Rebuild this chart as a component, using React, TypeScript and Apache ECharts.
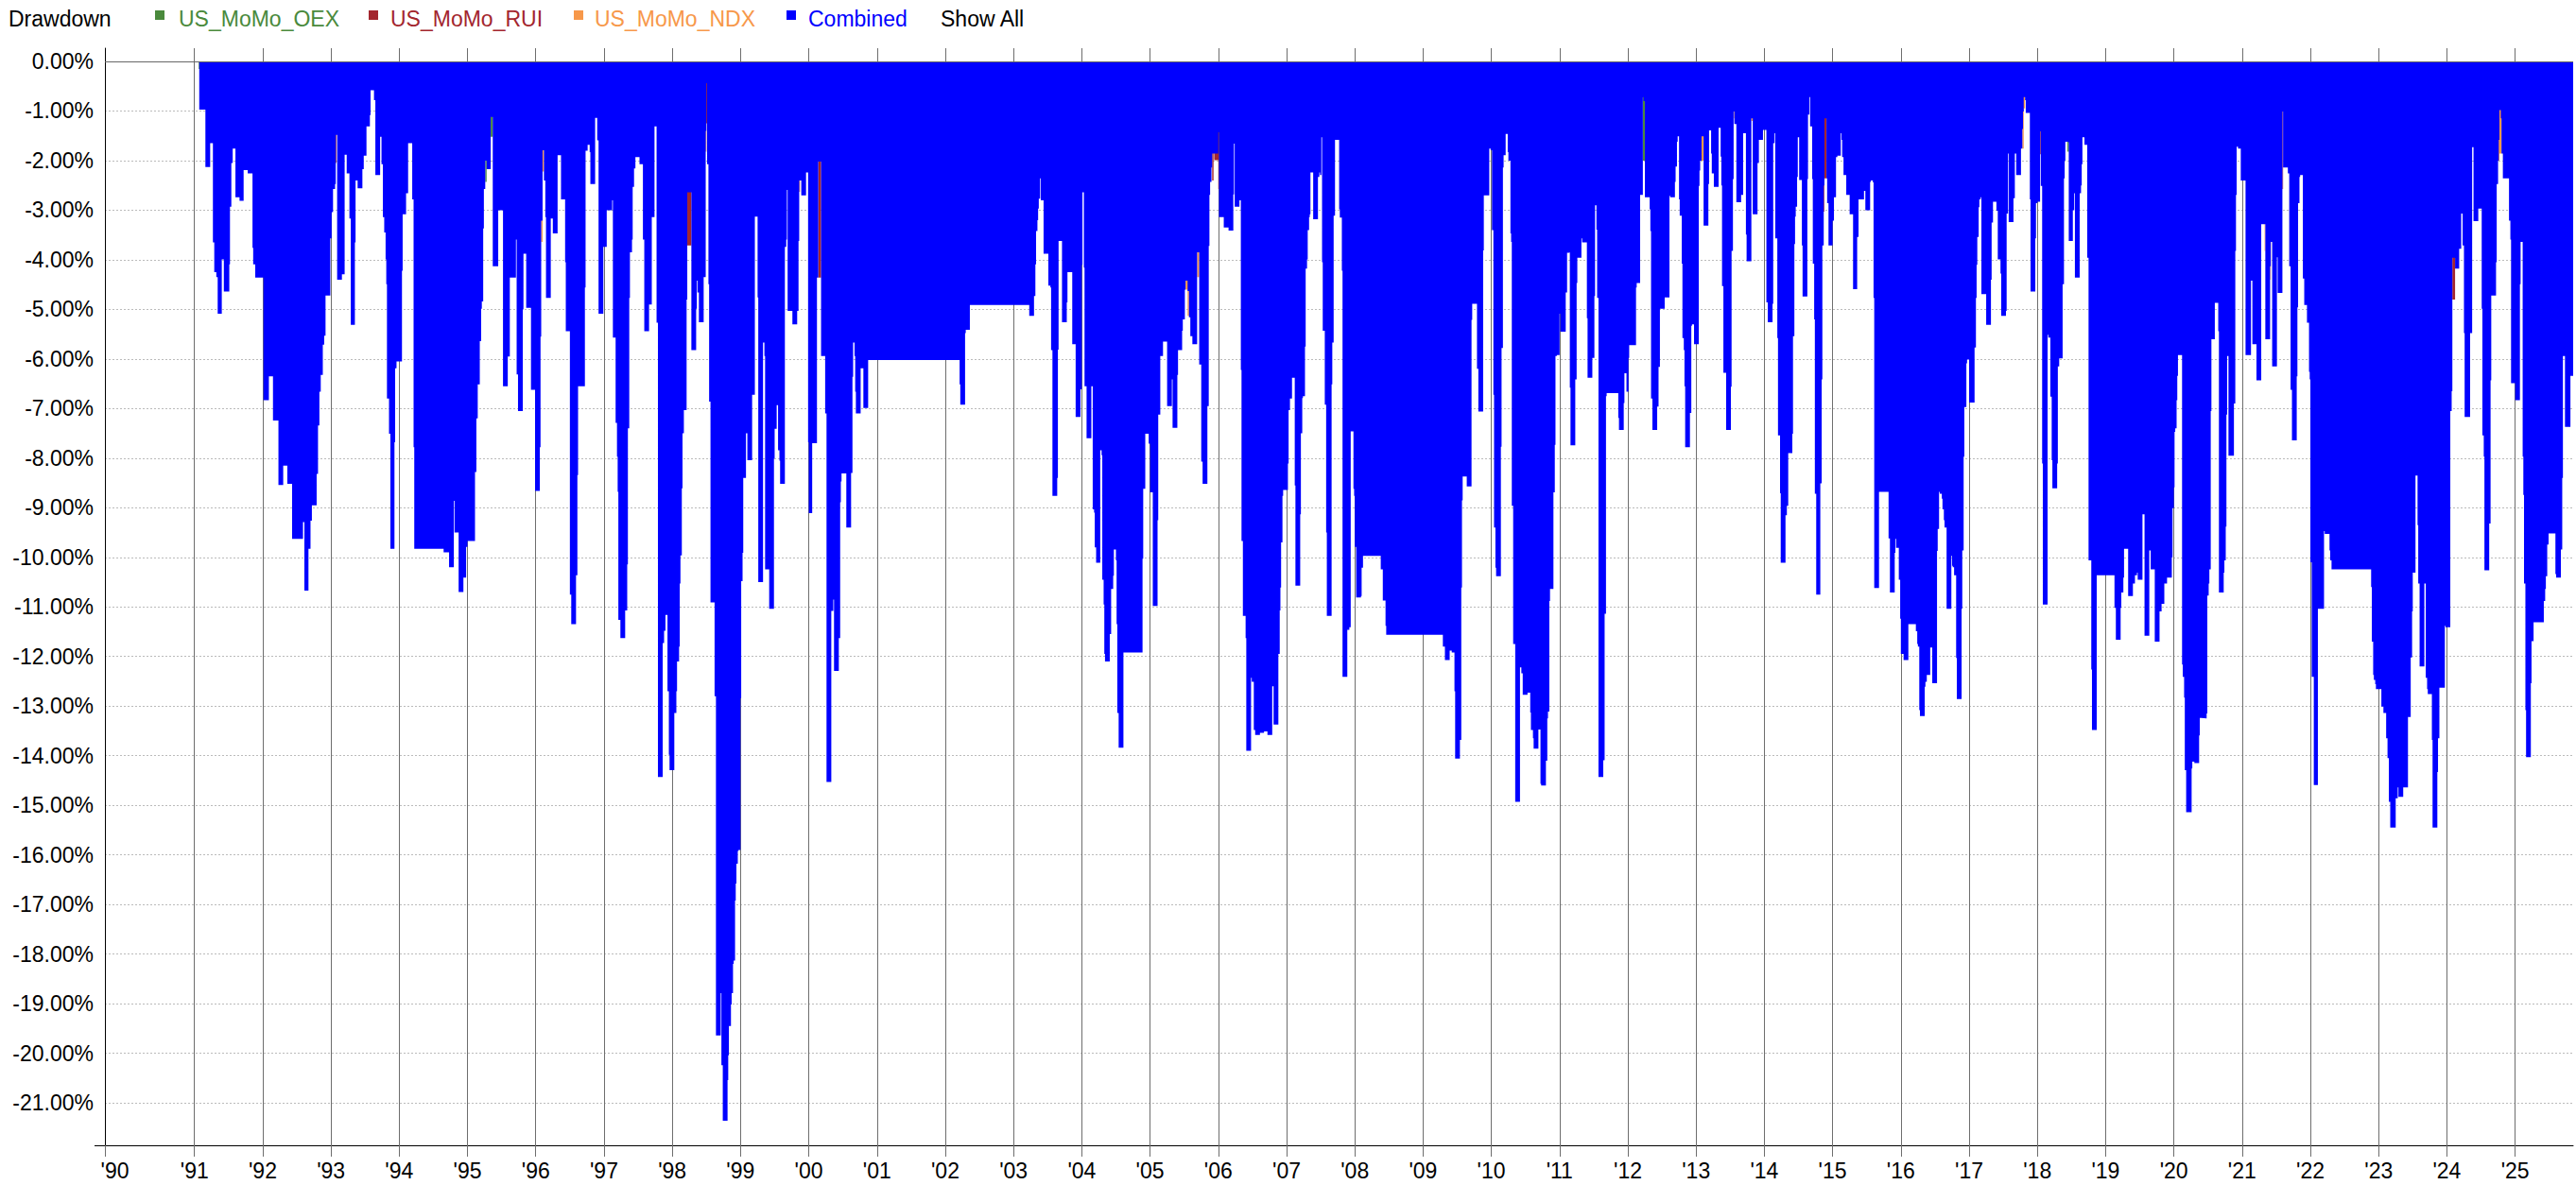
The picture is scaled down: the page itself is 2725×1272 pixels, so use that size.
import React, { useEffect, useRef } from "react";
import * as echarts from "echarts";

// ---------- labels / series meta ----------
const chartTitle = "Drawdown";
const seriesNames = ["US_MoMo_OEX", "US_MoMo_RUI", "US_MoMo_NDX", "Combined"];
const seriesColors = ["#4a8a3c", "#a3262e", "#f7984a", "#0000ff"];
const showAllLabel = "Show All";

// x axis: decimal years; first label sits at the axis start
const xAxisMin = 1989.688;
const xAxisMax = 2025.85;
const yearTicks = Array.from({ length: 35 }, (_, i) => 1991 + i);
// y axis (percent)
const yAxisMin = -21.857;
const yAxisMax = 0.267;
const percentTicks = Array.from({ length: 22 }, (_, i) => -i);

// ---------- Combined drawdown (%), [decimal year, value], each value holds until the next date ----------
const dd1991to1995: [number, number][] = [
  [1991.07,-0.97],[1991.16,-2.13],[1991.23,-1.65],[1991.27,-3.65],[1991.29,-4.25],[1991.32,-4.35],[1991.34,-5.09],[1991.40,-3.99],[1991.43,-4.64],[1991.51,-4.09],[1991.52,-2.93],[1991.54,-2.05],[1991.56,-1.76],[1991.60,-2.74],[1991.66,-2.81],[1991.72,-2.19],[1991.78,-2.26],[1991.85,-3.76],[1991.86,-4.09],[1991.89,-4.36],
  [1992.01,-6.83],[1992.09,-6.35],[1992.15,-7.24],[1992.23,-8.54],[1992.30,-8.15],[1992.36,-8.52],[1992.43,-9.63],[1992.59,-9.29],[1992.61,-10.67],[1992.67,-9.83],[1992.70,-9.26],[1992.72,-8.95],[1992.79,-8.32],[1992.81,-7.34],[1992.83,-6.66],[1992.85,-6.32],[1992.88,-5.71],[1992.90,-5.53],[1992.92,-4.72],[1992.99,-3.57],
  [1993.01,-3.04],[1993.03,-2.57],[1993.06,-2.47],[1993.07,-1.48],[1993.09,-4.40],[1993.16,-4.29],[1993.20,-1.88],[1993.23,-2.26],[1993.27,-3.17],[1993.29,-5.31],[1993.35,-3.65],[1993.36,-2.40],[1993.39,-2.56],[1993.46,-2.17],[1993.48,-1.90],[1993.52,-1.31],[1993.57,-1.08],[1993.58,-0.58],[1993.63,-0.78],[1993.65,-2.29],[1993.72,-1.52],[1993.74,-2.07],[1993.76,-3.14],[1993.78,-3.45],[1993.80,-3.99],[1993.81,-4.49],[1993.82,-6.80],[1993.85,-7.51],[1993.87,-9.83],[1993.93,-7.68],[1993.94,-6.19],[1993.96,-6.05],
  [1994.04,-4.22],[1994.05,-3.08],[1994.10,-2.66],[1994.13,-1.65],[1994.19,-2.78],[1994.21,-7.78],[1994.22,-9.83],[1994.65,-9.90],[1994.73,-10.20],[1994.80,-8.86],[1994.81,-9.50],[1994.87,-10.70],[1994.94,-10.41],[1994.98,-9.79],
  [1995.00,-9.67],[1995.11,-8.28],[1995.13,-7.20],[1995.15,-6.51],[1995.18,-5.64],[1995.20,-4.99],[1995.21,-4.84],[1995.23,-3.37],[1995.24,-2.57],[1995.26,-2.00],[1995.28,-2.17],[1995.34,-1.12],[1995.37,-4.13],[1995.45,-3.00],[1995.52,-6.55],[1995.59,-5.95],[1995.62,-4.36],[1995.71,-3.59],[1995.72,-6.31],[1995.74,-7.05],[1995.81,-5.00],[1995.82,-3.88],[1995.86,-4.97],[1995.93,-6.62],[1995.99,-8.66],
];
const dd1996to2000: [number, number][] = [
  [1996.06,-7.78],[1996.07,-5.55],[1996.08,-3.21],[1996.10,-1.79],[1996.12,-2.40],[1996.14,-3.14],[1996.15,-4.77],[1996.22,-3.17],[1996.25,-3.47],[1996.32,-1.89],[1996.37,-2.78],[1996.43,-4.05],[1996.44,-5.44],[1996.50,-10.75],[1996.52,-11.35],[1996.59,-10.36],[1996.61,-8.34],[1996.62,-6.55],[1996.72,-4.56],[1996.73,-1.80],[1996.76,-1.68],[1996.79,-1.83],[1996.80,-2.47],[1996.87,-1.14],[1996.90,-1.59],[1996.92,-5.09],[1996.99,-3.74],
  [1997.04,-3.00],[1997.12,-2.80],[1997.13,-5.57],[1997.17,-7.29],[1997.19,-7.97],[1997.20,-8.68],[1997.21,-11.26],[1997.24,-11.63],[1997.31,-11.07],[1997.34,-10.14],[1997.35,-7.40],[1997.37,-4.77],[1997.38,-3.85],[1997.41,-3.59],[1997.42,-2.53],[1997.44,-2.16],[1997.46,-1.93],[1997.52,-2.07],[1997.57,-3.59],[1997.59,-5.44],[1997.66,-4.90],[1997.70,-3.14],[1997.74,-1.31],[1997.77,-5.27],[1997.79,-14.43],[1997.86,-11.73],[1997.88,-11.48],[1997.90,-11.16],[1997.93,-12.70],[1997.95,-13.98],[1997.96,-14.29],
  [1998.03,-13.14],[1998.06,-12.70],[1998.07,-12.10],[1998.10,-11.80],[1998.11,-10.53],[1998.12,-9.96],[1998.14,-8.61],[1998.15,-7.50],[1998.17,-7.03],[1998.21,-4.80],[1998.22,-2.64],[1998.28,-5.82],[1998.35,-4.99],[1998.36,-4.42],[1998.37,-4.66],[1998.39,-5.26],[1998.46,-4.35],[1998.49,-1.40],[1998.50,-0.44],[1998.51,-2.07],[1998.53,-4.49],[1998.54,-6.86],[1998.56,-10.91],[1998.62,-12.80],[1998.64,-19.64],[1998.71,-18.79],[1998.72,-20.24],[1998.74,-21.36],[1998.81,-20.54],[1998.82,-20.04],[1998.83,-19.45],[1998.86,-19.02],[1998.87,-18.79],[1998.89,-18.20],[1998.90,-18.13],[1998.92,-16.92],[1998.93,-16.58],[1998.94,-16.18],[1998.96,-15.92],[1998.97,-15.90],
  [1999.00,-12.84],[1999.01,-10.48],[1999.03,-9.91],[1999.04,-8.40],[1999.08,-7.50],[1999.10,-8.04],[1999.17,-6.72],[1999.21,-3.13],[1999.25,-4.76],[1999.26,-10.50],[1999.33,-5.67],[1999.35,-5.94],[1999.36,-10.24],[1999.42,-11.04],[1999.49,-8.01],[1999.50,-7.41],[1999.53,-6.93],[1999.55,-7.84],[1999.57,-8.05],[1999.58,-8.52],[1999.65,-3.74],[1999.67,-3.59],[1999.68,-2.59],[1999.69,-5.03],[1999.76,-5.30],[1999.83,-5.03],[1999.85,-3.62],[1999.86,-2.40],[1999.89,-2.70],[1999.96,-2.24],[1999.99,-7.68],
  [2000.00,-9.11],[2000.05,-7.70],[2000.12,-4.36],[2000.14,-2.02],[2000.18,-5.94],[2000.24,-7.10],[2000.26,-14.53],[2000.33,-11.08],[2000.36,-10.85],[2000.37,-12.29],[2000.44,-11.63],[2000.46,-8.89],[2000.47,-8.47],[2000.48,-8.31],[2000.55,-9.40],[2000.62,-8.30],[2000.64,-6.36],[2000.65,-5.67],[2000.67,-5.94],[2000.68,-6.66],[2000.69,-7.10],[2000.76,-6.19],[2000.80,-6.99],[2000.87,-6.02],
];
const dd2001to2005: [number, number][] = [
  [2002.21,-6.51],[2002.22,-6.92],[2002.29,-5.48],[2002.30,-5.41],[2002.36,-4.91],
  [2003.23,-5.13],[2003.30,-4.73],[2003.32,-4.09],[2003.33,-3.42],[2003.35,-3.20],[2003.36,-2.97],[2003.37,-2.77],[2003.39,-2.36],[2003.40,-2.80],[2003.44,-3.88],[2003.51,-4.52],[2003.54,-4.56],[2003.55,-5.82],[2003.57,-8.76],[2003.64,-8.40],[2003.65,-5.81],[2003.66,-3.62],[2003.71,-5.26],[2003.78,-4.86],[2003.79,-4.25],[2003.86,-5.70],[2003.91,-7.17],[2003.98,-6.61],
  [2004.00,-4.10],[2004.01,-2.64],[2004.03,-4.16],[2004.04,-6.55],[2004.07,-7.60],[2004.14,-6.55],[2004.16,-9.03],[2004.18,-9.10],[2004.19,-9.80],[2004.21,-10.11],[2004.27,-7.84],[2004.29,-7.94],[2004.30,-10.45],[2004.32,-10.95],[2004.33,-11.95],[2004.34,-12.10],[2004.41,-11.55],[2004.43,-10.64],[2004.46,-10.37],[2004.47,-9.84],[2004.50,-10.06],[2004.51,-11.35],[2004.52,-13.14],[2004.54,-13.84],[2004.61,-11.92],[2004.89,-10.03],[2004.90,-8.62],[2004.93,-7.51],[2004.98,-7.71],
  [2005.00,-8.69],[2005.04,-10.98],[2005.11,-9.25],[2005.12,-7.12],[2005.15,-5.94],[2005.19,-5.65],[2005.25,-6.95],[2005.32,-6.41],[2005.33,-7.39],[2005.40,-6.32],[2005.41,-5.82],[2005.47,-5.43],[2005.48,-5.20],[2005.51,-4.60],[2005.52,-4.42],[2005.55,-4.63],[2005.57,-5.16],[2005.59,-5.54],[2005.62,-5.70],[2005.69,-3.85],[2005.72,-6.11],[2005.75,-8.07],[2005.77,-8.52],[2005.84,-6.95],[2005.86,-3.72],[2005.87,-2.69],[2005.88,-2.43],[2005.90,-2.14],[2005.91,-1.86],
];
const dd2006to2010: [number, number][] = [
  [2006.00,-1.43],[2006.01,-3.14],[2006.08,-3.35],[2006.15,-3.41],[2006.22,-2.68],[2006.23,-1.66],[2006.24,-2.93],[2006.31,-2.80],[2006.33,-6.22],[2006.34,-9.67],[2006.36,-11.18],[2006.40,-11.63],[2006.41,-13.90],[2006.48,-12.43],[2006.49,-12.51],[2006.52,-13.48],[2006.54,-13.58],[2006.61,-13.54],[2006.67,-13.51],[2006.72,-13.58],[2006.79,-12.60],[2006.81,-13.37],[2006.88,-11.95],[2006.90,-11.07],[2006.91,-10.61],[2006.92,-9.70],[2006.94,-8.76],[2006.95,-8.64],
  [2007.02,-8.11],[2007.03,-7.03],[2007.05,-6.80],[2007.08,-6.38],[2007.12,-8.55],[2007.13,-10.57],[2007.20,-9.13],[2007.21,-7.50],[2007.23,-6.79],[2007.24,-6.75],[2007.27,-5.75],[2007.28,-4.18],[2007.30,-3.99],[2007.31,-3.40],[2007.33,-3.14],[2007.34,-3.08],[2007.35,-2.24],[2007.39,-3.18],[2007.46,-2.33],[2007.48,-2.24],[2007.49,-2.29],[2007.51,-1.53],[2007.52,-4.05],[2007.53,-5.43],[2007.56,-6.92],[2007.58,-9.50],[2007.59,-11.18],[2007.66,-6.51],[2007.67,-5.67],[2007.69,-3.11],[2007.71,-1.58],[2007.77,-2.98],[2007.78,-3.15],[2007.81,-4.22],[2007.82,-12.41],[2007.89,-11.46],[2007.92,-11.41],[2007.94,-7.46],[2007.98,-8.62],[2007.99,-8.76],
  [2008.00,-9.79],[2008.02,-10.81],[2008.09,-10.78],[2008.10,-10.21],[2008.12,-9.97],[2008.38,-10.24],[2008.41,-10.87],[2008.45,-11.38],[2008.46,-11.56],
  [2009.29,-11.80],[2009.32,-12.07],[2009.39,-11.88],[2009.42,-11.92],[2009.46,-12.70],[2009.47,-14.06],[2009.54,-13.68],[2009.56,-10.61],[2009.57,-8.85],[2009.58,-8.37],[2009.64,-8.57],[2009.71,-5.21],[2009.72,-4.89],[2009.79,-6.20],[2009.81,-7.06],[2009.88,-3.81],[2009.89,-2.70],[2009.97,-1.76],[2009.99,-1.79],
  [2010.01,-3.40],[2010.03,-6.72],[2010.04,-9.40],[2010.06,-10.21],[2010.07,-10.38],[2010.14,-7.77],[2010.15,-5.78],[2010.17,-2.14],[2010.18,-1.89],[2010.21,-1.46],[2010.24,-1.83],[2010.25,-2.00],[2010.28,-3.47],[2010.29,-3.64],[2010.30,-8.96],[2010.32,-11.75],[2010.35,-14.93],[2010.42,-12.22],[2010.44,-12.34],[2010.46,-12.77],[2010.53,-12.73],[2010.57,-13.13],[2010.58,-13.48],[2010.61,-13.65],[2010.62,-13.86],[2010.69,-13.47],[2010.72,-14.57],[2010.73,-14.60],[2010.80,-14.10],[2010.82,-13.25],[2010.83,-13.11],[2010.85,-10.88],[2010.86,-10.64],[2010.91,-8.69],[2010.93,-7.73],[2010.94,-5.94],[2010.96,-5.92],
];
const dd2011to2015: [number, number][] = [
  [2011.00,-5.09],[2011.01,-5.45],[2011.09,-4.66],[2011.11,-3.86],[2011.14,-3.85],[2011.15,-6.58],[2011.16,-7.74],[2011.23,-6.41],[2011.25,-4.47],[2011.26,-3.96],[2011.32,-3.57],[2011.33,-3.65],[2011.40,-5.18],[2011.41,-6.38],[2011.48,-5.98],[2011.51,-4.73],[2011.52,-2.90],[2011.54,-3.39],[2011.55,-4.77],[2011.57,-14.43],[2011.64,-14.09],[2011.66,-11.14],[2011.68,-6.75],[2011.69,-6.69],[2011.86,-7.19],[2011.87,-7.43],[2011.94,-6.89],[2011.95,-6.29],[2011.98,-6.66],
  [2012.01,-5.98],[2012.02,-5.72],[2012.12,-4.56],[2012.13,-4.47],[2012.18,-2.69],[2012.22,-0.72],[2012.23,-0.80],[2012.25,-2.74],[2012.32,-2.98],[2012.33,-3.42],[2012.34,-6.80],[2012.36,-7.43],[2012.43,-6.96],[2012.45,-6.16],[2012.47,-4.99],[2012.54,-4.76],[2012.61,-2.71],[2012.62,-2.74],[2012.69,-2.43],[2012.70,-2.12],[2012.72,-1.62],[2012.73,-1.51],[2012.75,-2.78],[2012.76,-3.11],[2012.79,-4.08],[2012.80,-5.58],[2012.82,-5.82],[2012.83,-6.55],[2012.84,-7.78],[2012.91,-7.09],[2012.93,-5.33],[2012.94,-5.30],[2012.97,-5.70],
  [2013.04,-2.51],[2013.05,-2.20],[2013.06,-2.00],[2013.08,-1.51],[2013.11,-3.31],[2013.18,-2.47],[2013.19,-1.39],[2013.22,-1.86],[2013.23,-2.26],[2013.26,-2.53],[2013.33,-1.34],[2013.36,-1.92],[2013.37,-2.50],[2013.38,-4.53],[2013.40,-6.28],[2013.44,-7.43],[2013.51,-6.56],[2013.52,-3.82],[2013.54,-2.37],[2013.55,-1.01],[2013.56,-1.26],[2013.59,-2.84],[2013.66,-2.69],[2013.69,-1.45],[2013.73,-3.49],[2013.74,-4.03],[2013.81,-1.15],[2013.83,-3.08],[2013.90,-2.05],[2013.92,-1.58],[2013.98,-1.38],
  [2014.03,-4.86],[2014.05,-5.26],[2014.12,-4.89],[2014.13,-1.65],[2014.15,-1.45],[2014.16,-3.57],[2014.19,-5.58],[2014.20,-7.54],[2014.23,-8.71],[2014.24,-10.11],[2014.31,-9.15],[2014.33,-8.96],[2014.35,-7.90],[2014.41,-7.51],[2014.42,-5.54],[2014.44,-3.68],[2014.45,-3.13],[2014.46,-2.93],[2014.48,-2.33],[2014.49,-1.53],[2014.51,-2.39],[2014.55,-3.71],[2014.56,-4.74],[2014.63,-2.37],[2014.64,-1.07],[2014.66,-0.72],[2014.67,-1.31],[2014.70,-2.37],[2014.71,-4.08],[2014.73,-5.20],[2014.74,-8.72],[2014.76,-10.75],[2014.82,-8.51],[2014.84,-6.41],[2014.85,-3.71],[2014.87,-2.50],[2014.88,-1.15],[2014.91,-2.36],[2014.92,-2.86],[2014.94,-3.71],
  [2015.00,-3.21],[2015.02,-2.74],[2015.05,-1.93],[2015.07,-1.90],[2015.12,-1.45],[2015.13,-1.58],[2015.14,-1.93],[2015.16,-2.29],[2015.20,-2.69],[2015.25,-3.08],[2015.30,-4.59],[2015.36,-3.54],[2015.38,-2.78],[2015.46,-2.61],[2015.48,-3.00],[2015.55,-2.43],[2015.56,-2.40],[2015.59,-2.44],[2015.60,-4.77],[2015.61,-10.62],[2015.68,-8.68],[2015.82,-9.62],[2015.84,-10.71],[2015.91,-9.91],[2015.92,-9.63],[2015.93,-9.81],[2015.97,-10.45],[2015.99,-11.24],
];
const dd2016to2020: [number, number][] = [
  [2016.00,-11.95],[2016.04,-12.07],[2016.11,-11.35],[2016.22,-11.49],[2016.24,-11.75],[2016.25,-11.80],[2016.27,-13.08],[2016.28,-13.20],[2016.35,-12.61],[2016.36,-12.51],[2016.38,-12.37],[2016.43,-11.82],[2016.46,-12.54],[2016.53,-9.87],[2016.54,-9.43],[2016.56,-8.68],[2016.57,-8.72],[2016.60,-8.82],[2016.61,-9.03],[2016.63,-9.25],[2016.64,-9.40],[2016.67,-11.04],[2016.74,-9.97],[2016.75,-10.17],[2016.76,-10.20],[2016.78,-10.36],[2016.81,-12.03],[2016.82,-12.86],[2016.89,-11.04],[2016.90,-9.86],[2016.92,-7.97],[2016.93,-6.97],[2016.96,-6.09],[2016.97,-6.01],
  [2017.00,-6.88],[2017.08,-5.77],[2017.10,-4.77],[2017.11,-4.10],[2017.12,-3.54],[2017.14,-2.94],[2017.15,-2.78],[2017.17,-2.74],[2017.18,-4.69],[2017.25,-5.31],[2017.32,-4.40],[2017.33,-3.25],[2017.35,-2.83],[2017.40,-3.01],[2017.42,-3.99],[2017.46,-4.28],[2017.47,-5.13],[2017.54,-5.03],[2017.55,-3.07],[2017.57,-1.86],[2017.58,-3.24],[2017.65,-2.76],[2017.67,-1.86],[2017.69,-2.29],[2017.76,-1.76],[2017.78,-1.36],[2017.79,-1.01],[2017.80,-0.72],[2017.82,-0.78],[2017.83,-1.04],[2017.89,-2.78],[2017.90,-4.64],[2017.97,-3.57],[2017.98,-2.86],
  [2018.00,-2.83],[2018.04,-1.41],[2018.05,-2.51],[2018.07,-8.11],[2018.08,-10.95],[2018.15,-5.51],[2018.16,-5.57],[2018.19,-6.76],[2018.21,-8.04],[2018.22,-8.61],[2018.29,-8.11],[2018.30,-6.15],[2018.32,-5.99],[2018.37,-4.49],[2018.39,-2.36],[2018.40,-2.00],[2018.41,-1.62],[2018.44,-1.63],[2018.46,-3.62],[2018.52,-3.00],[2018.54,-2.66],[2018.55,-4.36],[2018.62,-2.66],[2018.64,-2.50],[2018.65,-2.07],[2018.66,-1.53],[2018.69,-1.68],[2018.73,-3.96],[2018.75,-10.06],[2018.79,-12.26],[2018.80,-13.48],[2018.87,-10.36],
  [2019.13,-11.02],[2019.15,-11.66],[2019.22,-11.02],[2019.23,-10.71],[2019.26,-10.41],[2019.27,-9.83],[2019.33,-10.78],[2019.40,-10.53],[2019.43,-10.36],[2019.46,-10.31],[2019.47,-10.45],[2019.54,-9.13],[2019.57,-11.58],[2019.64,-9.86],[2019.66,-10.24],[2019.72,-11.70],[2019.79,-11.09],[2019.82,-10.94],[2019.86,-10.53],[2019.90,-10.41],[2019.97,-10.00],[2019.98,-9.01],
  [2020.00,-8.59],[2020.01,-7.47],[2020.02,-7.40],[2020.04,-6.83],[2020.05,-6.34],[2020.06,-5.92],[2020.12,-12.16],[2020.13,-12.41],[2020.15,-12.83],[2020.16,-14.29],[2020.18,-15.14],[2020.26,-14.26],[2020.27,-14.12],[2020.30,-14.15],[2020.37,-13.59],[2020.38,-13.24],[2020.40,-13.25],[2020.48,-13.15],[2020.49,-10.77],[2020.51,-10.53],[2020.52,-10.24],[2020.54,-7.05],[2020.55,-5.60],[2020.60,-4.87],[2020.65,-5.44],[2020.66,-10.71],[2020.73,-10.31],[2020.74,-10.06],[2020.76,-9.38],[2020.77,-7.12],[2020.78,-5.94],[2020.80,-7.95],[2020.88,-6.90],[2020.90,-3.82],[2020.91,-2.69],[2020.92,-1.72],[2020.94,-1.76],[2020.98,-2.40],
];
const dd2021to2025: [number, number][] = [
  [2021.05,-5.92],[2021.13,-4.42],[2021.15,-5.70],[2021.21,-6.43],[2021.28,-3.28],[2021.34,-5.60],[2021.41,-4.13],[2021.42,-3.64],[2021.44,-6.15],[2021.51,-3.95],[2021.52,-4.67],[2021.59,-1.01],[2021.60,-2.14],[2021.67,-2.26],[2021.69,-4.13],[2021.71,-6.62],[2021.73,-7.64],[2021.80,-6.35],[2021.81,-4.96],[2021.82,-2.86],[2021.84,-2.33],[2021.85,-2.29],[2021.89,-4.38],[2021.91,-4.91],[2021.95,-5.27],[2021.98,-6.26],[2021.99,-6.41],
  [2022.00,-10.10],[2022.02,-12.41],[2022.05,-14.59],[2022.11,-11.04],[2022.20,-9.47],[2022.21,-9.53],[2022.28,-9.86],[2022.29,-10.06],[2022.31,-10.24],[2022.89,-10.60],[2022.90,-11.70],[2022.92,-12.37],[2022.93,-12.47],[2022.95,-12.56],[2022.96,-12.66],
  [2023.04,-13.01],[2023.07,-13.14],[2023.11,-13.65],[2023.13,-14.05],[2023.15,-14.93],[2023.17,-15.45],[2023.25,-14.86],[2023.28,-14.64],[2023.29,-14.83],[2023.36,-14.64],[2023.43,-13.22],[2023.47,-12.02],[2023.49,-11.09],[2023.50,-10.31],[2023.54,-8.35],[2023.57,-9.35],[2023.58,-10.53],[2023.60,-12.20],[2023.67,-10.53],[2023.69,-12.43],[2023.71,-12.66],[2023.72,-12.76],[2023.78,-13.68],[2023.79,-15.45],[2023.86,-14.33],[2023.87,-13.65],[2023.89,-12.63],[2023.97,-11.38],[2023.98,-11.41],
  [2024.05,-7.05],[2024.07,-6.65],[2024.08,-3.96],[2024.12,-4.18],[2024.18,-3.78],[2024.21,-3.07],[2024.23,-3.71],[2024.25,-5.48],[2024.26,-7.17],[2024.34,-5.48],[2024.37,-1.73],[2024.39,-3.22],[2024.46,-2.97],[2024.51,-4.99],[2024.52,-7.54],[2024.54,-7.97],[2024.55,-10.26],[2024.62,-9.32],[2024.64,-6.43],[2024.65,-4.72],[2024.72,-4.05],[2024.73,-2.47],[2024.75,-2.00],[2024.76,-1.58],[2024.77,-0.98],[2024.79,-1.15],[2024.80,-1.86],[2024.82,-2.36],[2024.91,-3.21],[2024.93,-3.59],[2024.94,-6.49],
  [2025.00,-6.83],[2025.07,-4.49],[2025.08,-3.64],[2025.11,-7.97],[2025.12,-8.74],[2025.13,-10.53],[2025.15,-13.08],[2025.16,-14.03],[2025.23,-12.54],[2025.24,-11.69],[2025.27,-11.31],[2025.42,-10.88],[2025.44,-10.64],[2025.45,-10.38],[2025.47,-9.74],[2025.49,-9.52],[2025.59,-10.34],[2025.60,-10.41],[2025.67,-9.84],[2025.69,-8.40],[2025.70,-5.94],[2025.73,-7.37],[2025.81,-6.34],[2025.85,-6.34],
];

// ---------- individual strategies: only the parts that show beyond Combined ([from, to, drawdown %]) ----------
const oexVisible: [number, number, number][] = [
  [1991.06,1991.07,-0.15],[1995.26,1995.28,-2.43],[1995.34,1995.37,-1.52],[2012.22,2012.25,-2.00],[2018.44,2018.46,-1.82],
];
const ruiVisible: [number, number, number][] = [
  [1993.07,1993.08,-2.05],[1998.22,1998.28,-3.71],[1998.49,1998.50,-1.82],[1998.50,1998.51,-1.25],[1999.86,1999.87,-2.63],[2000.14,2000.18,-4.36],
  [2005.91,2005.93,-2.40],[2005.94,2006.00,-1.99],[2006.00,2006.01,-2.57],[2014.87,2014.88,-3.03],[2014.88,2014.91,-2.36],[2018.04,2018.05,-1.87],[2021.59,2021.60,-2.57],[2024.08,2024.12,-4.80],
];
const ndxVisible: [number, number, number][] = [
  [1996.08,1996.10,-3.64],[1996.10,1996.12,-2.22],[2005.52,2005.55,-4.60],[2005.55,2005.57,-5.13],[2005.69,2005.72,-4.35],[2013.08,2013.11,-2.00],
  [2013.55,2013.56,-1.15],[2013.81,2013.83,-1.20],[2017.78,2017.80,-1.76],[2017.80,2017.82,-0.95],[2021.33,2021.34,-3.82],[2021.41,2021.42,-4.40],[2024.75,2024.77,-2.00],[2024.77,2024.80,-1.86],
];

const FONT = '"Liberation Sans", Arial, Helvetica, sans-serif';

function segmentsToData(segs: [number, number, number][]) {
  const out: any[] = [];
  segs.forEach(([s, e, v]) => {
    out.push([s, v], [e, v], [e, null]);
  });
  return out;
}

function buildOption() {
  const combined = [
    ...dd1991to1995, ...dd1996to2000, ...dd2001to2005, ...dd2006to2010,
    ...dd2011to2015, ...dd2016to2020, ...dd2021to2025,
  ];
  const partial = [oexVisible, ruiVisible, ndxVisible];
  const xTickValues = [xAxisMin, ...yearTicks];
  const yearLabel = (v: number) => "'" + String(Math.round(v)).slice(2);

  const areaSeries = (name: string, color: string, data: any[], z: number) => ({
    name,
    type: "line",
    step: "end",
    data,
    z,
    silent: true,
    symbol: "none",
    showSymbol: false,
    connectNulls: false,
    lineStyle: { width: 0, color },
    itemStyle: { color },
    areaStyle: { color, opacity: 1 },
  });

  // header / legend
  const legendSquareX = [164, 390, 607, 832];
  const legendTextX = [189, 413, 629, 855];
  const graphic: any[] = [
    { type: "text", x: 9, y: 19.5, style: { text: chartTitle, fill: "#000", font: `23px ${FONT}`, verticalAlign: "middle", align: "left" } },
    { type: "text", x: 995, y: 19.5, style: { text: showAllLabel, fill: "#000", font: `23px ${FONT}`, verticalAlign: "middle", align: "left" } },
    // small left extension of the x-axis line
    { type: "line", shape: { x1: 100, y1: 1212.5, x2: 111, y2: 1212.5 }, style: { stroke: "#000", lineWidth: 1 } },
  ];
  seriesNames.forEach((n, i) => {
    graphic.push({ type: "rect", shape: { x: legendSquareX[i], y: 11, width: 10, height: 10 }, style: { fill: seriesColors[i] } });
    graphic.push({ type: "text", x: legendTextX[i], y: 19.5, style: { text: n, fill: seriesColors[i], font: `23px ${FONT}`, verticalAlign: "middle", align: "left" } });
  });

  return {
    animation: false,
    backgroundColor: "#ffffff",
    grid: { left: 111, right: 3, top: 51, bottom: 60, containLabel: false, outerBoundsMode: "none" },
    xAxis: {
      type: "value",
      min: xAxisMin,
      max: xAxisMax,
      axisLine: { show: true, onZero: false, lineStyle: { color: "#000", width: 1 } },
      axisTick: { show: true, customValues: xTickValues, length: 12, lineStyle: { color: "#6e6e6e", width: 1 } },
      axisLabel: {
        customValues: xTickValues,
        formatter: (v: number) => (v === xAxisMin ? `{first|${yearLabel(v)}}` : yearLabel(v)),
        rich: { first: { fontSize: 23, fontFamily: FONT, color: "#000", padding: [0, 0, 0, 21] } },
        fontSize: 23,
        fontFamily: FONT,
        color: "#000",
        margin: 15,
        hideOverlap: false,
      },
      splitLine: { show: true, lineStyle: { color: "#6e6e6e", width: 1, type: "solid" } },
    },
    yAxis: {
      type: "value",
      min: yAxisMin,
      max: yAxisMax,
      axisLine: { show: true, lineStyle: { color: "#000", width: 1 } },
      axisTick: { show: false, customValues: percentTicks },
      axisLabel: {
        customValues: percentTicks,
        formatter: (v: number) => `${v.toFixed(2)}%`,
        fontSize: 23,
        fontFamily: FONT,
        color: "#000",
        margin: 12,
      },
      splitLine: { show: true, lineStyle: { color: "#bbbbbb", width: 1, type: [2, 2] } },
    },
    graphic,
    series: [
      {
        name: "zero",
        type: "line",
        data: [],
        z: 1,
        silent: true,
        markLine: {
          silent: true,
          symbol: "none",
          label: { show: false },
          lineStyle: { color: "#666666", width: 1, type: "solid" },
          data: [{ yAxis: 0 }],
        },
      },
      ...partial.map((segs, i) => areaSeries(seriesNames[i], seriesColors[i], segmentsToData(segs), 2)),
      areaSeries(seriesNames[3], seriesColors[3], combined, 3),
    ],
  };
}

export default function App() {
  const ref = useRef<HTMLDivElement>(null);
  useEffect(() => {
    if (!ref.current) return;
    const chart = echarts.init(ref.current, null, { renderer: "svg" });
    chart.setOption(buildOption() as any);
    return () => chart.dispose();
  }, []);
  return (
    <div
      ref={ref}
      style={{ position: "fixed", left: 0, top: 0, width: 2725, height: 1272, background: "#fff" }}
    />
  );
}
